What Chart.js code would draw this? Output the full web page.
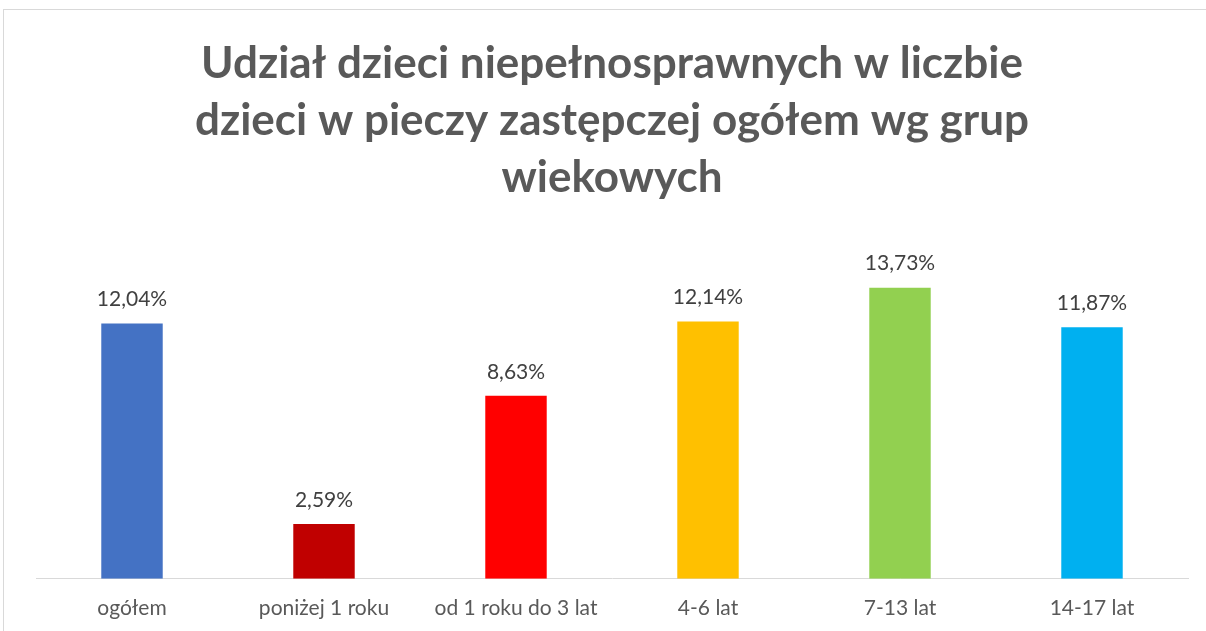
<!DOCTYPE html>
<html>
<head>
<meta charset="utf-8">
<script src="https://cdn.jsdelivr.net/npm/chart.js@4.4.1/dist/chart.umd.min.js"></script>
<style>
  html, body { margin: 0; padding: 0; background: #fff; }
  #wrap { position: relative; width: 1206px; height: 631px; }
  #frame { position: absolute; left: 3px; top: 9px; width: 1210px; height: 640px; border: 1px solid #d9d9d9; pointer-events: none; }
</style>
</head>
<body>
<div id="wrap">
  <canvas id="chart" width="1206" height="631"></canvas>
  <div id="frame"></div>
</div>
<script>
// dane wykresu
const categories = ['ogółem', 'poniżej 1 roku', 'od 1 roku do 3 lat', '4-6 lat', '7-13 lat', '14-17 lat'];
const values = [12.04, 2.59, 8.63, 12.14, 13.73, 11.87];
const barColors = ['#4472C4', '#C00000', '#FF0000', '#FFC000', '#92D050', '#00B0F0'];
const titleLines = ['Udział dzieci niepełnosprawnych w liczbie', 'dzieci w pieczy zastępczej ogółem wg grup', 'wiekowych'];

const fontFamily = 'Lato, "Open Sans", sans-serif';

// etykiety wartości nad słupkami
const valueLabels = {
    id: 'valueLabels',
    afterDatasetsDraw(chart) {
        const ctx = chart.ctx;
        const meta = chart.getDatasetMeta(0);
        ctx.save();
        ctx.font = '21px ' + fontFamily;
        ctx.fillStyle = '#404040';
        ctx.textAlign = 'center';
        ctx.textBaseline = 'middle';
        meta.data.forEach(function(bar, i) {
            const txt = values[i].toFixed(2).replace('.', ',') + '%';
            ctx.fillText(txt, bar.x, bar.y - 24);
        });
        ctx.restore();
    }
};

new Chart(document.getElementById('chart').getContext('2d'), {
    type: 'bar',
    data: {
        labels: categories,
        datasets: [{
            data: values,
            backgroundColor: barColors,
            barPercentage: 0.32,
            categoryPercentage: 1.0
        }]
    },
    options: {
        responsive: false,
        animation: false,
        layout: {
            padding: { left: 36, right: 18, top: 0, bottom: -7 }
        },
        plugins: {
            legend: { display: false },
            tooltip: { enabled: false },
            title: {
                display: true,
                text: titleLines,
                color: '#595959',
                font: { family: fontFamily, size: 44, weight: 'bold', lineHeight: 1.3 },
                padding: { top: 35, bottom: 33 }
            }
        },
        scales: {
            x: {
                grid: { display: false, drawTicks: false },
                border: { display: true, color: '#d9d9d9', width: 1 },
                ticks: { color: '#595959', font: { family: fontFamily, size: 21 }, padding: 17 }
            },
            y: {
                display: false,
                min: 0,
                max: 16
            }
        }
    },
    plugins: [valueLabels]
});
</script>
</body>
</html>
